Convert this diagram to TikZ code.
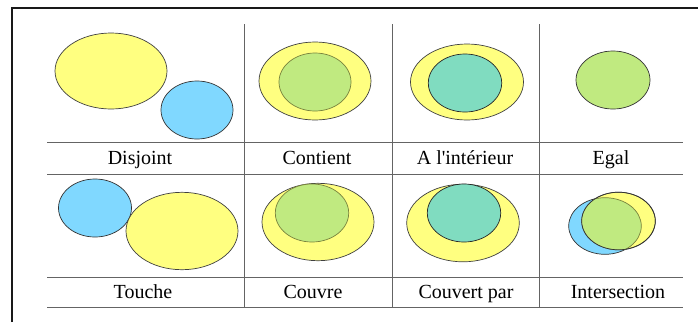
\documentclass[tikz,border=0pt]{standalone}
\usepackage{fontspec}
\newfontfamily\lserif{Liberation Serif}
\definecolor{cyel}{RGB}{255,255,128}
\definecolor{cblu}{RGB}{128,216,255}
\definecolor{cgrn}{RGB}{192,234,128}
\definecolor{ctea}{RGB}{128,220,192}
\definecolor{cgrid}{RGB}{100,100,100}
\definecolor{colive}{RGB}{120,130,60}
\begin{document}
\begin{tikzpicture}[x=1pt,y=-1pt,
  gridline/.style={draw=cgrid,line width=0.9pt},
  frameline/.style={draw=black!90,line width=2.2pt},
  yel/.style={fill=cyel,draw=black!75,line width=0.7pt},
  blu/.style={fill=cblu,draw=black!80,line width=0.7pt},
  grn/.style={fill=cgrn,draw=colive,line width=0.7pt},
  grnk/.style={fill=cgrn,draw=black!80,line width=0.7pt},
  tea/.style={fill=ctea,draw=black!85,line width=0.7pt},
  lbl/.style={font=\lserif\fontsize{20}{24}\selectfont,inner sep=0pt,anchor=base}]
\useasboundingbox (0,0) rectangle (698,322);
\fill[white] (0,0) rectangle (698,322);
% frame
\draw[frameline] (12,322) -- (12,8) -- (698,8);
% grid
\foreach \yy in {142,174,277,307} \draw[gridline] (47,\yy) -- (683,\yy);
\foreach \xx in {244,392,539} \draw[gridline] (\xx,24) -- (\xx,307);
% Disjoint
\draw[yel] (111,71) ellipse [x radius=56,y radius=38];
\draw[blu] (197,110) ellipse [x radius=36,y radius=29];
% Contient
\draw[yel] (315,81) ellipse [x radius=56,y radius=39];
\draw[grn] (315,82) ellipse [x radius=36,y radius=29];
% A l'interieur
\draw[yel] (467,82) ellipse [x radius=56.5,y radius=38];
\draw[tea] (465,83) ellipse [x radius=36.7,y radius=29];
% Egal
\draw[grnk] (613,80) ellipse [x radius=37,y radius=29];
% Touche
\draw[blu] (95,208) ellipse [x radius=36.5,y radius=29];
\draw[yel] (182,231) ellipse [x radius=56,y radius=38.7];
% Couvre
\draw[yel] (318,222) ellipse [x radius=56,y radius=38.7];
\draw[grn] (312,213) ellipse [x radius=36.7,y radius=29];
% Couvert par
\draw[yel] (463,223) ellipse [x radius=56.3,y radius=38.8];
\draw[tea] (464,213) ellipse [x radius=36.7,y radius=29];
% Intersection
\draw[blu] (605,226) ellipse [x radius=36.3,y radius=28.3];
\draw[yel] (618.5,221) ellipse [x radius=36.8,y radius=28.8];
\begin{scope}
  \clip (605,226) ellipse [x radius=36.3,y radius=28.3];
  \fill[cgrn] (618.5,221) ellipse [x radius=36.8,y radius=28.8];
\end{scope}
\begin{scope}
  \clip (618.5,221) ellipse [x radius=36.8,y radius=28.8];
  \draw[colive,line width=0.7pt] (605,226) ellipse [x radius=36.3,y radius=28.3];
\end{scope}
\draw[black!80,line width=0.7pt] (618.5,221) ellipse [x radius=36.8,y radius=28.8];
% labels
\node[lbl] (l1) at (140,164) {Disjoint};
\node[lbl] (l2) at (317,164) {Contient};
\node[lbl] (l3) at (465,164) {A l'intérieur};
\node[lbl] (l4) at (611,164) {Egal};
\node[lbl] (l5) at (143,298) {Touche};
\node[lbl] (l6) at (313,298) {Couvre};
\node[lbl] (l7) at (466,298) {Couvert par};
\node[lbl] (l8) at (618,298) {Intersection};
\end{tikzpicture}
\end{document}
